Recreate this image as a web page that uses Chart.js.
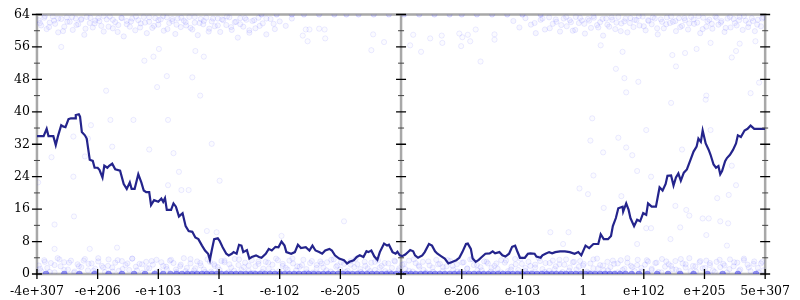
<!DOCTYPE html>
<html>
<head>
<meta charset="utf-8">
<script src="https://cdn.jsdelivr.net/npm/chart.js@4"></script>
<style>
html, body { margin: 0; padding: 0; background: #fff; }
#wrap { width: 800px; height: 300px; }
</style>
</head>
<body>
<div id="wrap"><canvas id="chart"></canvas></div>
<script>
// x axis: ordered position of doubles, one unit per labelled step
var xTickValues = [-6, -5, -4, -3, -2, -1, 0, 1, 2, 3, 4, 5, 6];
var xTickLabels = ['-4e+307', '-e+206', '-e+103', '-1', '-e-102', '-e-205', '0', 'e-206', 'e-103', '1', 'e+102', 'e+205', '5e+307'];
var yTickValues = [0, 8, 16, 24, 32, 40, 48, 56, 64];

// running mean
var lineData = [
  [-6.00,34.0],[-5.89,34.0],[-5.84,35.8],[-5.81,34.0],[-5.73,34.0],[-5.69,31.8],[-5.65,34.2],[-5.60,36.7],[-5.57,36.4],[-5.53,36.2],
  [-5.48,38.2],[-5.44,38.4],[-5.37,38.4],[-5.36,39.2],[-5.31,39.4],[-5.29,38.8],[-5.26,35.0],[-5.21,34.2],[-5.18,33.4],[-5.13,28.2],
  [-5.08,27.9],[-5.05,26.2],[-5.00,26.2],[-4.97,25.7],[-4.92,23.8],[-4.89,26.7],[-4.84,26.2],[-4.81,26.7],[-4.76,27.2],[-4.71,25.8],
  [-4.63,25.5],[-4.57,22.2],[-4.52,21.0],[-4.47,22.6],[-4.44,21.0],[-4.39,21.0],[-4.33,24.6],[-4.28,22.6],[-4.24,20.6],[-4.20,20.2],
  [-4.15,20.2],[-4.12,17.0],[-4.07,18.2],[-4.00,17.8],[-3.95,18.6],[-3.92,17.8],[-3.89,18.7],[-3.86,15.8],[-3.79,15.8],[-3.75,17.4],
  [-3.71,16.6],[-3.66,14.2],[-3.60,15.0],[-3.55,11.8],[-3.50,10.6],[-3.44,10.4],[-3.39,9.0],[-3.34,8.6],[-3.28,7.0],[-3.23,5.8],
  [-3.18,5.0],[-3.15,3.5],[-3.12,5.8],[-3.08,8.6],[-3.02,8.8],[-2.99,8.2],[-2.94,6.6],[-2.88,5.0],[-2.84,4.6],[-2.79,5.0],
  [-2.76,5.4],[-2.71,5.0],[-2.67,7.2],[-2.63,7.0],[-2.60,5.4],[-2.54,5.9],[-2.50,3.8],[-2.46,4.2],[-2.39,4.6],[-2.34,4.2],
  [-2.30,4.0],[-2.23,5.0],[-2.18,6.2],[-2.13,5.8],[-2.07,6.7],[-2.02,6.6],[-1.97,8.0],[-1.92,7.0],[-1.89,5.4],[-1.81,5.0],
  [-1.75,5.4],[-1.70,7.2],[-1.65,6.4],[-1.57,6.6],[-1.51,5.8],[-1.46,7.0],[-1.41,5.8],[-1.35,5.4],[-1.30,5.0],[-1.25,5.8],
  [-1.18,6.2],[-1.14,5.8],[-1.09,4.6],[-1.02,3.8],[-0.94,3.4],[-0.89,2.6],[-0.85,3.0],[-0.78,3.4],[-0.73,4.2],[-0.68,4.6],
  [-0.62,4.2],[-0.57,5.6],[-0.54,5.4],[-0.49,5.8],[-0.44,4.3],[-0.39,3.5],[-0.35,5.4],[-0.28,7.5],[-0.23,7.0],[-0.20,7.2],
  [-0.14,5.4],[-0.09,5.0],[-0.06,5.5],[-0.02,4.6],[0.02,4.4],[0.07,4.8],[0.12,5.5],[0.15,5.9],[0.20,5.6],[0.23,4.6],
  [0.28,4.0],[0.35,4.6],[0.39,5.4],[0.46,7.4],[0.51,7.0],[0.56,5.6],[0.60,5.0],[0.67,4.3],[0.72,3.8],[0.78,2.6],
  [0.85,3.0],[0.91,3.4],[0.96,4.0],[1.01,5.4],[1.07,7.4],[1.10,7.5],[1.15,6.2],[1.18,3.8],[1.23,3.0],[1.28,3.5],
  [1.33,4.2],[1.39,5.0],[1.46,5.1],[1.51,5.6],[1.55,5.1],[1.62,5.4],[1.67,4.6],[1.72,4.3],[1.78,5.0],[1.83,6.7],
  [1.88,7.0],[1.91,5.8],[1.96,4.0],[2.04,4.0],[2.09,5.0],[2.13,5.1],[2.20,5.0],[2.23,4.3],[2.30,4.0],[2.33,4.6],
  [2.38,5.0],[2.44,5.4],[2.49,5.1],[2.54,5.4],[2.62,5.6],[2.70,5.6],[2.78,5.4],[2.86,5.0],[2.92,5.4],[2.97,4.6],
  [3.04,7.0],[3.10,6.4],[3.17,7.4],[3.25,7.4],[3.29,9.8],[3.34,8.6],[3.41,8.6],[3.46,9.4],[3.49,11.8],[3.54,13.8],
  [3.58,16.2],[3.65,16.6],[3.66,15.4],[3.71,17.4],[3.75,15.8],[3.78,13.8],[3.84,11.8],[3.89,13.4],[3.94,13.0],[3.99,15.0],
  [4.04,14.6],[4.07,17.4],[4.13,16.6],[4.20,16.6],[4.23,19.0],[4.26,21.4],[4.31,20.6],[4.36,22.2],[4.39,24.2],[4.45,24.3],
  [4.49,21.8],[4.53,23.8],[4.57,24.8],[4.61,23.0],[4.66,25.0],[4.71,25.8],[4.78,28.6],[4.82,30.2],[4.87,31.4],[4.90,33.4],
  [4.94,32.6],[4.97,35.4],[5.02,32.2],[5.07,30.6],[5.10,29.4],[5.15,27.0],[5.19,26.2],[5.23,26.6],[5.26,24.6],[5.29,25.4],
  [5.34,27.8],[5.37,28.6],[5.42,29.4],[5.47,30.6],[5.52,32.2],[5.55,34.2],[5.60,33.8],[5.66,35.4],[5.71,35.8],[5.76,36.6],
  [5.82,35.8],[5.90,35.8],[6.00,35.8]
];

// samples near the bottom (0..4)
var lowBand = [
  [-5.97,2.1],[-5.93,0.7],[-5.88,3.4],[-5.83,1.5],[-5.77,2.7],[-5.71,0.4],[-5.66,3.9],[-5.61,1.9],[-5.55,2.9],[-5.49,1.1],
  [-5.44,3.3],[-5.38,0.6],[-5.33,2.4],[-5.27,1.7],[-5.21,3.7],[-5.16,0.9],[-5.10,2.6],[-5.04,1.3],[-4.99,3.1],[-4.93,2.0],
  [-4.88,0.5],[-4.82,3.6],[-4.76,1.6],[-4.71,2.8],[-4.65,0.8],[-4.60,3.2],[-4.54,2.2],[-4.48,1.0],[-4.43,3.8],[-4.37,1.8],
  [-4.31,2.5],[-4.26,0.3],[-4.20,3.0],[-4.15,1.4],[-4.09,2.3],[-4.03,3.5],[-3.98,0.7],[-3.92,2.0],[-3.86,1.2],[-3.81,3.3],
  [-3.75,2.7],[-3.70,0.5],[-3.64,1.9],[-3.58,3.9],[-3.53,1.5],[-3.47,2.6],[-3.41,0.9],[-3.36,3.1],[-3.30,2.1],[-3.25,1.1],
  [-3.19,3.6],[-3.13,0.6],[-3.08,2.4],[-3.02,1.7],[-2.96,3.2],[-2.91,2.9],[-2.85,0.4],[-2.80,1.6],[-2.74,3.7],[-2.68,2.2],
  [-2.63,1.0],[-2.57,2.8],[-2.51,0.8],[-2.46,3.4],[-2.40,1.9],[-2.35,2.5],[-2.29,0.5],[-2.23,3.0],[-2.18,1.3],[-2.12,2.3],
  [-2.06,3.8],[-2.01,0.7],[-1.95,2.0],[-1.90,1.5],[-1.84,3.3],[-1.78,2.6],[-1.73,0.9],[-1.67,1.8],[-1.61,3.5],[-1.56,1.2],
  [-1.50,2.7],[-1.45,0.4],[-1.39,2.2],[-1.33,3.1],[-1.28,1.6],[-1.22,2.9],[-1.16,0.6],[-1.11,3.6],[-1.05,2.1],[-1.00,1.1],
  [-0.94,2.5],[-0.88,0.8],[-0.83,3.2],[-0.77,1.7],[-0.72,2.4],[-0.66,0.5],[-0.60,3.0],[-0.55,1.4],[-0.49,2.8],[-0.43,1.0],
  [-0.38,3.4],[-0.32,2.0],[-0.26,0.7],[-0.21,2.6],[-0.15,1.5],[-0.10,3.1],[-0.04,0.9],[0.02,2.3],[0.07,1.2],[0.13,3.3],
  [0.19,0.6],[0.24,2.7],[0.30,1.8],[0.36,3.0],[0.41,0.4],[0.47,2.1],[0.52,1.6],[0.58,3.5],[0.64,2.5],[0.69,0.8],
  [0.75,1.9],[0.81,3.2],[0.86,1.1],[0.92,2.4],[0.98,0.5],[1.03,2.9],[1.09,1.4],[1.14,3.6],[1.20,2.2],[1.26,0.9],
  [1.31,1.7],[1.37,3.1],[1.43,2.6],[1.48,0.6],[1.54,2.0],[1.59,1.3],[1.65,3.4],[1.71,2.8],[1.76,0.7],[1.82,1.8],
  [1.88,3.7],[1.93,1.0],[1.99,2.5],[2.05,1.5],[2.10,3.0],[2.16,0.4],[2.21,2.3],[2.27,3.9],[2.33,1.2],[2.38,2.7],
  [2.44,0.8],[2.50,3.3],[2.55,1.9],[2.61,2.4],[2.66,0.5],[2.72,3.6],[2.78,1.6],[2.83,2.9],[2.89,1.1],[2.95,3.2],
  [3.00,2.1],[3.06,0.6],[3.12,2.6],[3.17,1.4],[3.23,3.8],[3.28,2.2],[3.34,0.9],[3.40,3.0],[3.45,1.7],[3.51,2.5],
  [3.57,0.4],[3.62,3.4],[3.68,1.3],[3.73,2.8],[3.79,2.0],[3.85,0.7],[3.90,3.5],[3.96,1.5],[4.02,2.3],[4.07,3.1],
  [4.13,1.0],[4.19,2.7],[4.24,0.5],[4.30,3.7],[4.35,1.8],[4.41,2.4],[4.47,1.2],[4.52,3.2],[4.58,0.8],[4.64,2.6],
  [4.69,1.6],[4.75,3.9],[4.81,2.0],[4.86,0.6],[4.92,2.9],[4.97,1.4],[5.03,3.3],[5.09,2.2],[5.14,0.9],[5.20,3.0],
  [5.26,1.7],[5.31,2.5],[5.37,0.4],[5.42,3.6],[5.48,1.9],[5.54,2.8],[5.59,1.1],[5.65,3.4],[5.71,2.3],[5.76,0.7],
  [5.82,3.1],[5.88,1.5],[5.93,2.6],[5.97,0.9],
  [-5.95,1.3],[-5.87,3.0],[-5.79,0.5],[-5.71,2.2],[-5.63,3.6],[-5.55,1.0],[-5.47,2.8],[-5.39,0.3],[-5.31,1.9],[-5.23,3.3],
  [-5.15,2.5],[-5.07,0.8],[-4.99,3.9],[-4.91,1.6],[-4.83,2.0],[-4.75,0.6],[-4.67,3.4],[-4.59,1.2],[-4.51,2.6],[-4.43,3.8],
  [-4.35,0.9],[-4.27,2.4],[-4.19,1.5],[-4.11,3.2],[-4.03,0.4],[-3.95,2.9],[-3.87,1.8],[-3.79,3.5],[-3.71,1.1],[-3.63,2.3],
  [-3.55,0.7],[-3.47,3.7],[-3.39,1.4],[-3.31,2.7],[-3.23,0.5],[-3.15,3.0],[-3.07,2.0],[-2.99,1.0],[-2.91,3.3],[-2.83,2.4],
  [-2.75,0.8],[-2.67,3.6],[-2.59,1.7],[-2.51,2.1],[-2.43,0.3],[-2.35,3.1],[-2.27,1.3],[-2.19,2.8],[-2.11,0.6],[-2.03,3.4],
  [-1.95,2.5],[-1.87,1.1],[-1.79,3.8],[-1.71,1.9],[-1.63,2.2],[-1.55,0.4],[-1.47,3.2],[-1.39,1.5],[-1.31,2.6],[-1.23,0.9],
  [-1.15,3.5],[-1.07,1.8],[-0.99,2.9],[-0.91,0.5],[-0.83,2.3],[-0.75,3.7],[-0.67,1.2],[-0.59,2.0],[-0.51,0.7],[-0.43,3.0],
  [-0.35,1.6],[-0.27,2.7],[-0.19,0.4],[-0.11,3.3],[-0.03,1.4],[0.05,2.5],[0.13,0.8],[0.21,3.6],[0.29,2.1],[0.37,1.0],
  [0.45,3.1],[0.53,0.5],[0.61,2.4],[0.69,1.7],[0.77,3.4],[0.85,2.0],[0.93,0.6],[1.01,2.8],[1.09,1.3],[1.17,3.7],
  [1.25,2.2],[1.33,0.9],[1.41,3.0],[1.49,1.5],[1.57,2.6],[1.65,0.4],[1.73,3.3],[1.81,1.1],[1.89,2.4],[1.97,3.8],
  [2.05,0.7],[2.13,2.0],[2.21,1.6],[2.29,3.2],[2.37,0.5],[2.45,2.7],[2.53,1.2],[2.61,3.5],[2.69,2.3],[2.77,0.8],
  [2.85,3.0],[2.93,1.8],[3.01,2.5],[3.09,0.3],[3.17,3.6],[3.25,1.4],[3.33,2.1],[3.41,0.9],[3.49,3.3],[3.57,2.6],
  [3.65,1.0],[3.73,3.9],[3.81,1.7],[3.89,2.2],[3.97,0.6],[4.05,3.4],[4.13,1.3],[4.21,2.8],[4.29,0.4],[4.37,3.1],
  [4.45,2.0],[4.53,1.1],[4.61,3.7],[4.69,2.4],[4.77,0.7],[4.85,1.9],[4.93,3.2],[5.01,1.5],[5.09,2.7],[5.17,0.5],
  [5.25,3.5],[5.33,2.1],[5.41,1.2],[5.49,2.9],[5.57,0.8],[5.65,3.8],[5.73,1.6],[5.81,2.5],[5.89,0.4],[5.95,3.0]
];

// samples near the top (58..64), both outer ends
var highBand = [
  [-5.97,62.6],[-5.93,61.3],[-5.88,63.2],[-5.84,60.4],[-5.79,62.0],[-5.74,63.5],[-5.70,61.7],[-5.65,59.6],[-5.60,62.9],[-5.55,61.0],
  [-5.51,63.3],[-5.46,62.2],[-5.41,60.2],[-5.36,63.0],[-5.32,61.6],[-5.27,62.7],[-5.22,59.0],[-5.18,63.4],[-5.13,61.9],[-5.08,60.8],
  [-5.04,62.5],[-4.99,63.1],[-4.94,61.2],[-4.90,59.8],[-4.85,62.8],[-4.80,63.5],[-4.75,60.6],[-4.71,62.1],[-4.66,61.4],[-4.61,63.2],
  [-4.57,58.6],[-4.52,62.4],[-4.47,61.0],[-4.43,63.0],[-4.38,60.1],[-4.33,62.6],[-4.29,61.8],[-4.24,63.4],[-4.19,59.4],[-4.15,62.2],
  [-4.10,60.7],[-4.05,63.1],[-4.00,61.5],[-3.96,62.8],[-3.91,60.0],[-3.86,63.3],[-3.82,61.9],[-3.77,62.4],[-3.72,59.2],[-3.68,63.0],
  [-3.63,60.9],[-3.58,62.5],[-3.54,61.3],[-3.49,63.4],[-3.44,60.3],[-3.40,62.0],[-3.35,58.9],[-3.30,62.9],[-3.26,61.6],[-3.21,63.2],
  [-3.16,60.5],[-3.12,62.3],[-3.07,61.1],[-3.02,63.0],[-2.98,59.7],[-2.93,62.6],[-2.88,61.4],[-2.83,63.3],[-2.79,60.2],[-2.74,62.1],
  [-2.69,58.3],[-2.65,63.1],[-2.60,61.0],[-2.55,62.7],[-2.50,59.5],[-2.45,62.4],[-2.40,60.6],[-2.35,63.2],[-2.28,61.8],[-2.22,59.1],
  [-2.15,62.9],[-2.08,60.4],[-2.00,62.3],[-1.90,61.2],[-1.80,63.0],
  [-5.95,61.9],[-5.87,63.6],[-5.80,60.9],[-5.72,62.5],[-5.65,63.0],[-5.57,59.9],[-5.50,62.2],[-5.42,63.4],[-5.35,61.4],[-5.27,62.9],
  [-5.20,60.5],[-5.12,63.2],[-5.05,61.8],[-4.97,62.4],[-4.90,63.6],[-4.82,61.0],[-4.75,62.7],[-4.67,59.7],[-4.60,63.1],[-4.52,61.6],
  [-4.45,62.3],[-4.37,63.5],[-4.30,60.8],[-4.22,62.0],[-4.15,63.3],[-4.07,61.2],[-4.00,62.6],[-3.92,63.6],[-3.85,60.4],[-3.77,62.9],
  [-3.70,61.5],[-3.62,63.2],[-3.55,62.1],[-3.47,60.7],[-3.40,63.4],[-3.32,61.9],[-3.25,62.4],[-3.17,59.8],[-3.10,63.0],[-3.02,61.3],
  [-2.95,62.8],[-2.87,63.5],[-2.80,60.9],[-2.72,62.2],[-2.65,61.6],[-2.57,63.1],[-2.50,60.1],[-2.42,62.6],[-2.33,61.2],[-2.22,63.0],
  [-2.10,61.7],
  [1.85,62.4],[1.95,60.8],[2.05,63.1],[2.14,61.5],[2.22,59.4],[2.30,62.7],[2.37,60.3],[2.44,63.3],[2.50,61.7],[2.56,62.2],
  [2.62,59.8],[2.68,63.0],[2.73,61.1],[2.78,62.6],[2.83,60.0],[2.88,63.4],[2.93,61.9],[2.98,62.5],[3.03,59.3],[3.08,62.9],
  [3.13,60.7],[3.18,63.2],[3.23,61.4],[3.28,62.1],[3.33,58.8],[3.38,63.0],[3.43,61.0],[3.48,62.7],[3.53,60.4],[3.58,63.4],
  [3.63,61.8],[3.68,62.3],[3.73,59.6],[3.78,63.1],[3.83,60.9],[3.88,62.6],[3.93,61.3],[3.98,63.5],[4.03,60.1],[4.08,62.4],
  [4.13,61.6],[4.18,63.0],[4.23,59.1],[4.28,62.8],[4.33,60.6],[4.38,63.3],[4.43,61.9],[4.48,62.2],[4.53,59.9],[4.58,63.1],
  [4.63,61.2],[4.68,62.6],[4.73,60.3],[4.78,63.4],[4.83,61.7],[4.88,62.0],[4.93,59.4],[4.98,63.2],[5.03,61.0],[5.08,62.7],
  [5.13,60.5],[5.18,63.5],[5.23,61.5],[5.28,62.4],[5.33,59.7],[5.38,63.0],[5.43,60.8],[5.48,62.9],[5.53,61.3],[5.58,63.4],
  [5.63,60.2],[5.68,62.5],[5.73,61.8],[5.78,63.1],[5.83,59.9],[5.88,62.7],[5.93,61.1],[5.97,63.3],
  [2.20,61.9],[2.33,63.0],[2.45,60.6],[2.55,62.8],[2.64,61.4],[2.72,63.4],[2.80,62.1],[2.87,60.2],[2.95,63.2],[3.02,61.7],
  [3.10,62.5],[3.17,63.6],[3.25,60.8],[3.32,62.9],[3.40,61.5],[3.47,63.3],[3.55,62.0],[3.62,59.9],[3.70,63.0],[3.77,61.9],
  [3.85,62.7],[3.92,63.6],[4.00,61.1],[4.07,62.6],[4.15,63.3],[4.22,60.6],[4.30,62.2],[4.37,61.6],[4.45,63.5],[4.52,62.4],
  [4.60,60.9],[4.67,63.1],[4.75,61.8],[4.82,62.8],[4.90,63.6],[4.97,60.4],[5.05,62.3],[5.12,61.7],[5.20,63.2],[5.27,62.0],
  [5.35,60.7],[5.42,63.4],[5.50,61.9],[5.57,62.6],[5.65,63.6],[5.72,60.9],[5.80,62.4],[5.87,61.5],[5.95,63.0]
];

// scattered samples in between
var sparse = [
  [-5.60,56.0],[-4.23,52.6],[-4.08,53.6],[-3.86,48.8],[-3.44,48.5],[-4.86,45.2],[-4.02,46.1],[-3.31,44.0],[-3.25,53.6],[-3.99,55.5],
  [-3.39,55.0],[-4.79,38.0],[-4.41,38.0],[-3.84,38.0],[-5.11,36.7],[-4.76,31.4],[-4.15,30.7],[-3.75,29.8],[-5.76,28.8],[-5.40,24.0],
  [-5.98,22.6],[-3.66,25.2],[-3.84,21.9],[-3.62,20.7],[-3.50,20.7],[-5.21,29.0],[-5.40,33.9],[-5.16,33.4],[-2.99,23.0],[-3.20,10.6],
  [-3.04,10.3],[-4.68,6.5],[-3.12,32.1],[-5.39,14.2],[-5.71,12.2],[-5.71,6.2],[-5.13,6.2],[-0.94,13.0],[-1.97,9.4],
  [-1.54,57.4],[-1.62,58.8],[-1.57,60.3],[-1.51,60.3],[-1.35,60.5],[-1.26,60.3],[-1.25,58.1],[-0.46,59.1],[-0.28,57.2],[-0.49,55.2],
  [0.15,56.4],[0.20,59.0],[0.33,54.8],[0.48,58.1],[0.67,58.8],[0.68,57.0],[0.96,59.3],[1.01,58.4],[1.10,59.0],[1.14,57.4],
  [0.99,56.2],[1.23,60.3],[1.31,52.4],[1.54,59.1],[1.54,57.8],
  [3.29,56.4],[3.65,54.8],[3.54,50.6],[3.68,48.3],[3.91,47.4],[3.71,44.8],[4.47,54.0],[4.53,51.2],[4.68,54.5],[4.87,55.5],
  [5.10,57.0],[5.45,53.4],[5.52,55.0],[4.45,42.2],[5.02,43.0],[5.03,44.0],[5.76,44.6],[5.90,47.2],[5.58,56.8],[5.84,57.4],
  [3.15,38.4],[3.12,32.9],[3.58,33.6],[4.04,35.5],[3.71,31.2],[3.81,29.3],[3.33,30.0],[4.63,30.7],[5.10,35.5],[3.17,24.3],
  [3.89,25.4],[4.12,24.0],[2.94,21.1],[3.08,19.7],[3.63,19.2],[3.34,16.3],[4.52,16.8],[4.70,15.8],[4.75,14.4],[4.97,13.7],
  [5.07,13.7],[5.39,12.5],[5.26,13.0],[5.52,21.9],[5.45,26.7],[5.40,19.5],[5.21,18.7],[4.04,11.3],[4.12,11.3],[4.60,11.5],
  [4.44,8.6],[5.03,9.6],[5.37,7.0],[3.89,7.4],[2.46,10.3],[2.76,10.3],[2.67,7.4]
];

// samples sitting exactly on 0 and on 64
var zeroRowX = [-5.85,-5.55,-5.3,-5.05,-4.82,-4.6,-4.4,-4.22,-4.06,-3.92,-3.8,-3.7,-3.61,-3.52,-3.44,-3.36,-3.28,-3.2,-3.12,-3.04,
  -2.96,-2.88,-2.8,-2.72,-2.64,-2.56,-2.48,-2.4,-2.32,-2.24,-2.16,-2.08,-2.0,-1.92,-1.84,-1.76,-1.68,-1.6,-1.52,-1.44,
  -1.36,-1.28,-1.2,-1.12,-1.04,-0.96,-0.88,-0.8,-0.72,-0.64,-0.56,-0.48,-0.4,-0.32,-0.24,-0.16,-0.08,0,0.08,0.16,
  0.24,0.32,0.4,0.48,0.56,0.64,0.72,0.8,0.88,0.96,1.04,1.12,1.2,1.28,1.36,1.44,1.52,1.6,1.68,1.76,
  1.84,1.92,2.0,2.08,2.16,2.24,2.32,2.4,2.48,2.56,2.64,2.72,2.8,2.88,2.96,3.04,3.12,3.2,3.28,3.36,
  3.44,3.52,3.61,3.7,3.8,3.92,4.06,4.22,4.4,4.6,4.82,5.05,5.3,5.55,5.85];
var topRowX = [-2.3,-2.05,-1.8,-1.6,-1.35,-1.1,-0.9,-0.7,-0.45,-0.2,0.05,0.3,0.55,0.8,1.0,1.25,1.5,1.75,2.0,2.3];

Chart.defaults.font.family = '"DejaVu Serif", serif';
Chart.defaults.font.size = 12.5;
Chart.defaults.color = '#000';

var pointFill = 'rgba(40,40,255,0.045)';
var pointEdge = 'rgba(40,40,255,0.09)';

var axesFrame = {
  id: 'axesFrame',
  beforeDatasetsDraw: function(chart) {
    var ctx = chart.ctx, a = chart.chartArea;
    var x0 = chart.scales.x.getPixelForValue(0);
    ctx.save();
    ctx.strokeStyle = '#a8a8a8';
    ctx.lineWidth = 2.5;
    ctx.strokeRect(a.left, a.top, a.right - a.left, a.bottom - a.top);
    ctx.beginPath();
    ctx.moveTo(x0, a.top);
    ctx.lineTo(x0, a.bottom);
    ctx.stroke();
    ctx.restore();
  },
  afterDatasetsDraw: function(chart) {
    var ctx = chart.ctx, a = chart.chartArea;
    var xs = chart.scales.x, ys = chart.scales.y;
    var cols = [a.left, xs.getPixelForValue(0), a.right];
    ctx.save();
    ctx.strokeStyle = '#000';
    ctx.lineWidth = 1.3;
    ctx.beginPath();
    ys.ticks.forEach(function(t) {
      var py = ys.getPixelForValue(t.value);
      cols.forEach(function(px) { ctx.moveTo(px - 5, py); ctx.lineTo(px + 5, py); });
    });
    xs.ticks.forEach(function(t) {
      var px = xs.getPixelForValue(t.value);
      ctx.moveTo(px, a.bottom - 5);
      ctx.lineTo(px, a.bottom + 5);
    });
    ctx.stroke();
    // minor ticks halfway between the labelled ones
    ctx.strokeStyle = '#444';
    ctx.lineWidth = 1;
    ctx.beginPath();
    for (var i = 0; i < ys.ticks.length - 1; i++) {
      var pm = ys.getPixelForValue((ys.ticks[i].value + ys.ticks[i + 1].value) / 2);
      cols.forEach(function(px) { ctx.moveTo(px - 3, pm); ctx.lineTo(px + 3, pm); });
    }
    ctx.stroke();
    ctx.restore();
  }
};

function pts(color, edge, radius, data) {
  return {
    data: data,
    pointRadius: radius,
    pointBackgroundColor: color,
    pointBorderColor: edge,
    pointBorderWidth: 1,
    showLine: false,
    clip: 0
  };
}

var ctx = document.getElementById('chart').getContext('2d');
var myChart = new Chart(ctx, {
  type: 'scatter',
  data: {
    datasets: [
      {
        data: lineData,
        showLine: true,
        borderColor: '#24248c',
        borderWidth: 2.2,
        pointRadius: 0,
        tension: 0,
        clip: 0
      },
      pts(pointFill, pointEdge, 2.6, lowBand),
      pts(pointFill, pointEdge, 2.6, highBand),
      pts('rgba(40,40,255,0.02)', 'rgba(40,40,255,0.09)', 2.6, sparse),
      pts('rgba(40,40,235,0.45)', 'rgba(40,40,235,0.25)', 3, zeroRowX.map(function(v) { return { x: v, y: 0 }; })),
      pts('rgba(60,60,255,0.12)', 'rgba(60,60,255,0.15)', 2.6, topRowX.map(function(v) { return { x: v, y: 64 }; }))
    ]
  },
  options: {
    responsive: true,
    maintainAspectRatio: false,
    animation: false,
    events: [],
    layout: { padding: { left: 0, right: 27, top: 7, bottom: 0 } },
    plugins: { legend: { display: false }, tooltip: { enabled: false } },
    scales: {
      x: {
        type: 'linear',
        min: -6,
        max: 6,
        grid: { display: false, drawTicks: false },
        border: { display: false },
        afterBuildTicks: function(scale) {
          scale.ticks = xTickValues.map(function(v) { return { value: v }; });
        },
        afterFit: function(scale) { scale.height = 26; },
        ticks: {
          padding: 10,
          maxRotation: 0,
          autoSkip: false,
          callback: function(value, index) { return xTickLabels[index]; }
        }
      },
      y: {
        type: 'linear',
        min: 0,
        max: 64,
        grid: { display: false, drawTicks: false },
        border: { display: false },
        afterBuildTicks: function(scale) {
          scale.ticks = yTickValues.map(function(v) { return { value: v }; });
        },
        afterFit: function(scale) { scale.width = 28; },
        ticks: { padding: 7 }
      }
    }
  },
  plugins: [axesFrame]
});
</script>
</body>
</html>
